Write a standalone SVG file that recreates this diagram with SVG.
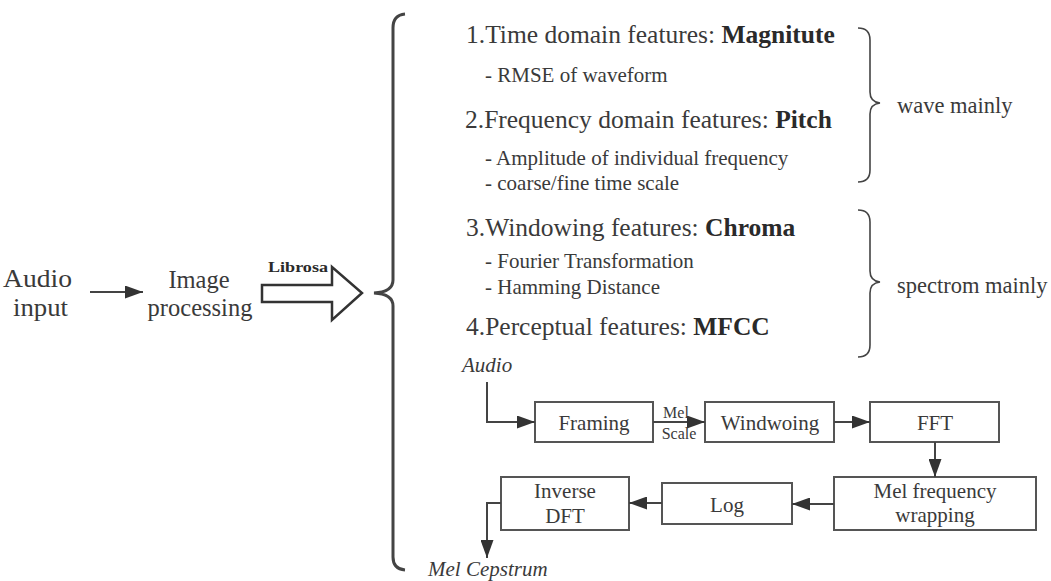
<svg xmlns="http://www.w3.org/2000/svg" width="1051" height="581" viewBox="0 0 1051 581">
<defs>
<marker id="ah" markerUnits="userSpaceOnUse" markerWidth="18" markerHeight="13" refX="18" refY="6.5" orient="auto">
<path d="M0,0 L18,6.5 L0,13 Z" fill="#333"/>
</marker>
<style>
text{font-family:'Liberation Serif','Tinos','Times New Roman','DejaVu Serif',serif;fill:#3a3a3a}
.h{font-size:25.5px}
.s{font-size:21px}
.b{font-weight:bold;fill:#2a2a2a}
.n{font-size:21px;text-anchor:middle}
.i{font-style:italic;font-size:21px}
.box{fill:#fff;stroke:#555;stroke-width:2}
.c{fill:none;stroke:#444;stroke-width:2}
.br{fill:none;stroke:#444}
</style>
</defs>
<rect width="1051" height="581" fill="#fff"/>

<g id="audio-input">
<text x="3" y="287" font-size="24.5px" textLength="69" lengthAdjust="spacingAndGlyphs">Audio</text>
<text x="13" y="316" font-size="24.5px" textLength="55" lengthAdjust="spacingAndGlyphs">input</text>
</g>
<g id="image-processing">
<text x="199" y="288" font-size="24.5px" text-anchor="middle">Image</text>
<text x="200" y="316" font-size="24.5px" text-anchor="middle">processing</text>
</g>
<g id="librosa-arrow">
<path d="M262,285 H332 V267 L362,293 L332,320 V302 H262 Z" fill="#fff" stroke="#333" stroke-width="2.5" stroke-linejoin="miter"/>
<text x="268" y="272" font-size="14px" class="b" textLength="60" lengthAdjust="spacingAndGlyphs">Librosa</text>
</g>

<g id="left-brace">
<path class="br" stroke-width="3" d="M405,14 Q393,15 393,28 V280 Q393,292 374,293 Q393,294 393,306 V557 Q393,569 405,570"/>
</g>

<g id="features">
<text class="h" x="466" y="43">1.Time domain features: <tspan class="b">Magnitute</tspan></text>
<text class="s" x="485" y="82">- RMSE of waveform</text>
<text class="h" x="465" y="128">2.Frequency domain features: <tspan class="b">Pitch</tspan></text>
<text class="s" x="485" y="165">- Amplitude of individual frequency</text>
<text class="s" x="485" y="190">- coarse/fine time scale</text>
<text class="h" x="466" y="236">3.Windowing features: <tspan class="b">Chroma</tspan></text>
<text class="s" x="485" y="268">- Fourier Transformation</text>
<text class="s" x="485" y="294">- Hamming Distance</text>
<text class="h" x="466" y="335">4.Perceptual features: <tspan class="b">MFCC</tspan></text>
</g>

<g id="wave-brace">
<path class="br" stroke-width="1.6" d="M858,28 Q870,28 870,40 V92 Q870,102 880,103 Q870,104 870,114 V170 Q870,182 858,182"/>
<text x="897" y="113" font-size="22.5px">wave mainly</text>
</g>
<g id="spectrom-brace">
<path class="br" stroke-width="1.6" d="M858,210 Q870,210 870,222 V271 Q870,281 880,282 Q870,283 870,293 V345 Q870,357 858,357"/>
<text x="897" y="293" font-size="22.5px">spectrom mainly</text>
</g>

<g id="audio-label"><text class="i" x="462" y="372">Audio</text></g>
<g id="framing"><rect class="box" x="535" y="402" width="118" height="40"/><text class="n" x="594" y="430">Framing</text></g>
<g id="windwoing"><rect class="box" x="705" y="402" width="129" height="40"/><text class="n" x="770" y="430">Windwoing</text></g>
<g id="fft"><rect class="box" x="870" y="402" width="129" height="40"/><text class="n" x="935" y="430">FFT</text></g>
<g id="mel-wrap"><rect class="box" x="834" y="477" width="202" height="53"/><text class="n" x="935" y="498">Mel frequency</text><text class="n" x="935" y="522">wrapping</text></g>
<g id="log"><rect class="box" x="662" y="483" width="130" height="41"/><text class="n" x="727" y="512">Log</text></g>
<g id="inverse-dft"><rect class="box" x="501" y="477" width="128" height="53"/><text class="n" x="565" y="498">Inverse</text><text class="n" x="565" y="523">DFT</text></g>
<g id="mel-cepstrum"><text class="i" x="428" y="576">Mel Cepstrum</text></g>

<g id="connectors">
<line class="c" x1="90" y1="292" x2="143" y2="292" marker-end="url(#ah)"/>
<path class="c" d="M487,382 V422 H535" marker-end="url(#ah)"/>
<path class="c" d="M653,422 H705" marker-end="url(#ah)"/>
<text x="676" y="418" font-size="16px" text-anchor="middle">Mel</text>
<text x="679" y="439" font-size="16px" text-anchor="middle">Scale</text>
<path class="c" d="M834,422 H870" marker-end="url(#ah)"/>
<path class="c" d="M935,442 V477" marker-end="url(#ah)"/>
<path class="c" d="M834,504 H792" marker-end="url(#ah)"/>
<path class="c" d="M662,503 H629" marker-end="url(#ah)"/>
<path class="c" d="M501,503 H487 V558" marker-end="url(#ah)"/>
</g>
</svg>
